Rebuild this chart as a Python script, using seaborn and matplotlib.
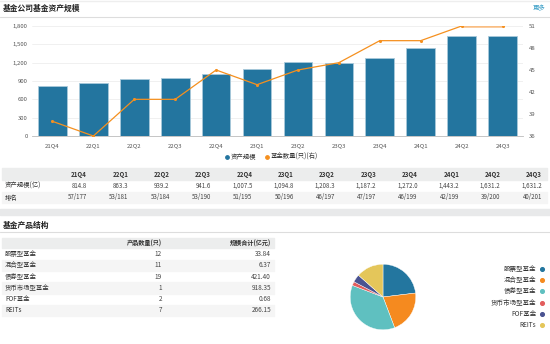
import matplotlib
matplotlib.use("Agg")
import matplotlib.pyplot as plt
import seaborn as sns
import pandas as pd
from matplotlib.patches import Rectangle

# ---------------- data ----------------
quarters = ["21Q4", "22Q1", "22Q2", "22Q3", "22Q4", "23Q1", "23Q2", "23Q3", "23Q4", "24Q1", "24Q2", "24Q3"]
assets = [814.8, 863.3, 939.2, 941.6, 1007.5, 1094.8, 1208.3, 1187.2, 1272.0, 1443.2, 1631.2, 1631.2]
fund_counts = [38, 36, 41, 41, 45, 43, 45, 46, 49, 49, 51, 51]
ranks = ["57/177", "53/181", "53/184", "53/190", "51/195", "50/196", "46/197", "47/197", "46/199", "42/199", "39/200", "40/201"]
left_ticks = [0, 300, 600, 900, 1200, 1500, 1800]
right_ticks = [36, 39, 42, 45, 48, 51]

product_types = ["股票型基金", "混合型基金", "债券型基金", "货币市场型基金", "FOF基金", "REITs"]
product_counts = [12, 11, 19, 1, 2, 7]
product_scales = ["33.84", "6.37", "421.40", "918.35", "0.68", "266.15"]
pie_colors = ["#23769f", "#f58a1f", "#5fc0c0", "#e25d5d", "#4a5391", "#e4c65a"]

# ---------------- style ----------------
sns.set_theme(style="white")
plt.rcParams["font.family"] = ["Noto Sans CJK SC", "DejaVu Sans"]

W, H = 550, 344
fig = plt.figure(figsize=(W / 100, H / 100), dpi=100)
fig.patch.set_facecolor("white")


def box(x, y, w, h):
    return [x / W, 1 - (y + h) / H, w / W, h / H]


# background axes in pixel coordinates
bg = fig.add_axes([0, 0, 1, 1], zorder=0)
bg.set_xlim(0, W)
bg.set_ylim(H, 0)
bg.axis("off")

txt = "#333333"
gray_bg = "#eceded"
light_bg = "#f5f5f5"

# top section header
bg.text(3, 8, "基金公司基金资产规模", fontsize=5.6, fontweight="bold", color="#222222", va="center", ha="left")
bg.text(545, 8, "更多", fontsize=4.6, color="#3a9ec6", va="center", ha="right")
bg.plot([0, W], [17, 17], color="#dddddd", lw=0.8)
bg.plot([0, W], [0.5, 0.5], color="#eeeeee", lw=1)

# ---------------- main chart ----------------
df = pd.DataFrame({"quarter": quarters, "assets": assets, "count": fund_counts})
ax = fig.add_axes(box(32, 26, 491, 110), zorder=2)
ax.set_facecolor("none")
sns.barplot(data=df, x="quarter", y="assets", color="#23759f", width=0.7, ax=ax,
            edgecolor="#a9c9db", linewidth=0.6, saturation=1, zorder=3)
ax.set_ylim(0, 1800)
ax.set_yticks(left_ticks)
ax.set_yticklabels([f"{v:,}" for v in left_ticks])
ax.set_xlim(-0.5, len(quarters) - 0.5)
ax.grid(axis="y", color="#eeeeee", lw=0.6, zorder=0)
ax.set_axisbelow(True)
ax.set_xlabel("")
ax.set_ylabel("")
for s in ["top", "right", "left"]:
    ax.spines[s].set_visible(False)
ax.spines["bottom"].set_color("#bbbbbb")
ax.spines["bottom"].set_linewidth(0.6)
ax.tick_params(axis="both", labelsize=4.3, colors="#555555", length=0, pad=3)
ax.tick_params(axis="x", length=2, color="#bbbbbb", width=0.5)

ax2 = ax.twinx()
# highlighted last segment (lighter, thicker) as in the reference
sns.lineplot(data=df.iloc[-2:], x="quarter", y="count", ax=ax2, color="#f9bd82", lw=1.8, sort=False)
sns.lineplot(data=df.iloc[:-1], x="quarter", y="count", ax=ax2, color="#f5901f", lw=0.9, sort=False)
sns.scatterplot(data=df, x="quarter", y="count", ax=ax2, color="#f5901f", s=5, linewidth=0, zorder=5)
ax2.set_ylim(36, 51)
ax2.set_yticks(right_ticks)
ax2.set_ylabel("")
ax2.set_xlabel("")
for s in ["top", "left", "right", "bottom"]:
    ax2.spines[s].set_visible(False)
ax2.tick_params(axis="y", labelsize=4.3, colors="#555555", length=0, pad=4)

# legend (manual)
bg.scatter([227], [156.5], s=6, color="#23759f", zorder=5)
bg.text(231, 156.5, "资产规模", fontsize=4.6, color=txt, va="center", ha="left")
bg.scatter([267], [156.5], s=6, color="#f5901f", zorder=5)
bg.text(271, 156.5, "基金数量(只)(右)", fontsize=4.6, color=txt, va="center", ha="left")

# ---------------- quarterly table ----------------
bg.add_patch(Rectangle((2, 168), 545, 12, color=gray_bg, zorder=1))
bg.add_patch(Rectangle((2, 192), 545, 11, color=light_bg, zorder=1))
bg.text(5, 186, "资产规模(亿)", fontsize=4.6, color=txt, va="center", ha="left", zorder=2)
bg.text(5, 197.5, "排名", fontsize=4.6, color=txt, va="center", ha="left", zorder=2)
for i, q in enumerate(quarters):
    xr = 87 + i * 41.35
    bg.text(xr, 174, q, fontsize=4.4, fontweight="bold", color=txt, va="center", ha="right", zorder=2)
    bg.text(xr, 186, f"{assets[i]:,.1f}", fontsize=4.4, color="#444444", va="center", ha="right", zorder=2)
    bg.text(xr, 197.5, ranks[i], fontsize=4.4, color="#444444", va="center", ha="right", zorder=2)

# separator band
bg.add_patch(Rectangle((0, 209), W, 6, color="#e8e9ea", zorder=1))

# ---------------- product structure ----------------
bg.text(3, 225, "基金产品结构", fontsize=5.6, fontweight="bold", color="#222222", va="center", ha="left")
bg.plot([0, W], [232, 232], color="#dddddd", lw=0.8)

bg.add_patch(Rectangle((2, 238), 272, 10, color=gray_bg, zorder=1))
bg.text(162, 243, "产品数量(只)", fontsize=4.4, fontweight="bold", color=txt, va="center", ha="right", zorder=2)
bg.text(271, 243, "规模合计(亿元)", fontsize=4.4, fontweight="bold", color=txt, va="center", ha="right", zorder=2)
row_h = 11.3
for i, name in enumerate(product_types):
    yc = 254 + i * row_h
    if i % 2 == 1:
        bg.add_patch(Rectangle((2, yc - row_h / 2), 272, row_h, color=light_bg, zorder=1))
    bg.text(5, yc, name, fontsize=4.6, color=txt, va="center", ha="left", zorder=2)
    bg.text(162, yc, str(product_counts[i]), fontsize=4.6, color="#444444", va="center", ha="right", zorder=2)
    bg.text(271, yc, product_scales[i], fontsize=4.6, color="#444444", va="center", ha="right", zorder=2)

# pie
axp = fig.add_axes(box(342, 256, 82, 82), zorder=2)
axp.pie(product_counts, colors=pie_colors, startangle=90, counterclock=False,
        wedgeprops=dict(linewidth=0.3, edgecolor="white"))
axp.set_aspect("equal")
axp.axis("off")

# pie legend (manual)
for i, name in enumerate(product_types):
    yl = 269 + i * 11.2
    bg.text(536, yl, name, fontsize=4.7, color=txt, va="center", ha="right")
    bg.scatter([541.5], [yl], s=7, color=pie_colors[i], zorder=5)

fig.savefig("out.png", dpi=100, facecolor="white")
